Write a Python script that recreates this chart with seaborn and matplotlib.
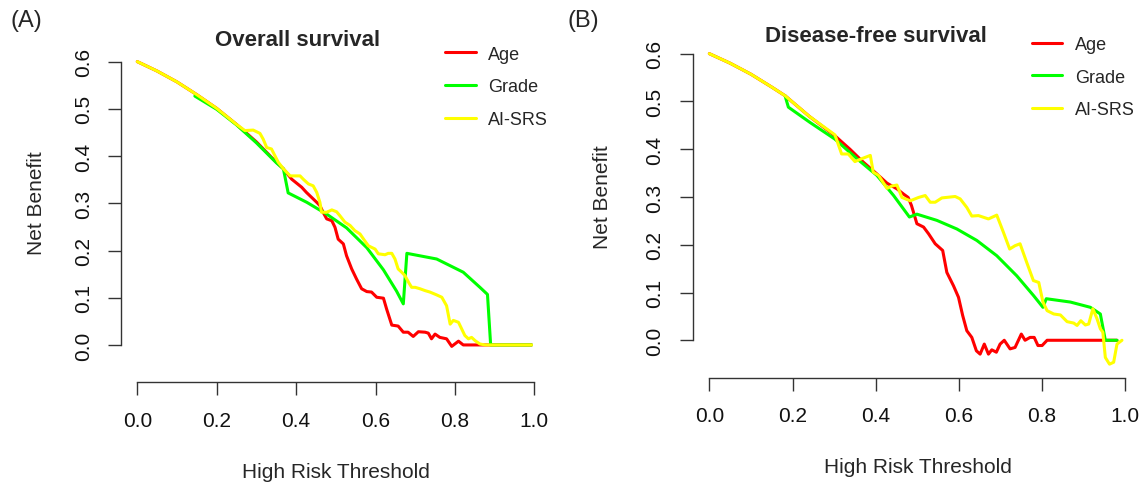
import numpy as np
import pandas as pd
import seaborn as sns
import matplotlib.pyplot as plt

sns.set_style("white")
plt.rcParams['font.family'] = ['Liberation Sans', 'DejaVu Sans']

# Data
models = ["Age", "Grade", "AI-SRS"]
colors = ["#FF0000", "#00FF00", "#FFFF00"]
x_ticks = [0.0, 0.2, 0.4, 0.6, 0.8, 1.0]
x_tick_labels = ["0.0", "0.2", "0.4", "0.6", "0.8", "1.0"]
y_ticks = [0.0, 0.1, 0.2, 0.3, 0.4, 0.5, 0.6]
y_tick_labels = ["0.0", "0.1", "0.2", "0.3", "0.4", "0.5", "0.6"]

# Panel A: overall survival
os_age_x = [0, 0.05, 0.1, 0.15, 0.2, 0.25, 0.3, 0.35, 0.368, 0.389, 0.414, 0.426, 0.452, 0.46,
            0.468, 0.477, 0.49, 0.498, 0.506, 0.519, 0.527, 0.54, 0.552, 0.565, 0.578,
            0.59, 0.603, 0.62, 0.628, 0.641, 0.657, 0.67, 0.682, 0.695, 0.708, 0.725,
            0.733, 0.741, 0.75, 0.762, 0.779, 0.792, 0.809, 0.821, 0.876, 0.993]
os_age_y = [0.6, 0.58, 0.557, 0.53, 0.501, 0.467, 0.43, 0.387, 0.373, 0.351, 0.334, 0.323, 0.302, 0.295,
            0.281, 0.267, 0.263, 0.249, 0.224, 0.214, 0.189, 0.161, 0.14, 0.119, 0.113,
            0.112, 0.101, 0.099, 0.076, 0.042, 0.04, 0.027, 0.027, 0.018, 0.028, 0.027,
            0.025, 0.013, 0.023, 0.016, 0.013, -0.003, 0.008, 0.0, 0.0, 0.0]
os_grade_x = [0.145, 0.2, 0.25, 0.3, 0.35, 0.368, 0.38, 0.427, 0.477, 0.527, 0.578, 0.62, 0.653,
              0.67, 0.679, 0.754, 0.821, 0.863, 0.882, 0.89, 0.993]
os_grade_y = [0.527, 0.499, 0.466, 0.428, 0.386, 0.373, 0.322, 0.302, 0.277, 0.248, 0.206, 0.159,
              0.114, 0.087, 0.194, 0.182, 0.154, 0.122, 0.107, 0.0, 0.0]
os_srs_x = [0, 0.05, 0.1, 0.15, 0.2, 0.25, 0.271, 0.292, 0.309, 0.317, 0.326, 0.338, 0.355, 0.368,
            0.385, 0.41, 0.418, 0.431, 0.443, 0.452, 0.46, 0.464, 0.477, 0.49, 0.502, 0.51,
            0.523, 0.536, 0.548, 0.561, 0.57, 0.582, 0.599, 0.607, 0.624, 0.632, 0.641,
            0.649, 0.657, 0.666, 0.674, 0.683, 0.691, 0.7, 0.712, 0.725, 0.737, 0.754,
            0.767, 0.779, 0.788, 0.796, 0.809, 0.817, 0.825, 0.834, 0.842, 0.851, 0.863,
            0.876, 0.993]
os_srs_y = [0.6, 0.58, 0.557, 0.53, 0.501, 0.467, 0.454, 0.455, 0.448, 0.436, 0.418, 0.415, 0.387, 0.373,
            0.358, 0.358, 0.351, 0.341, 0.337, 0.323, 0.302, 0.281, 0.281, 0.286, 0.282, 0.274,
            0.26, 0.253, 0.242, 0.235, 0.224, 0.21, 0.203, 0.193, 0.191, 0.194, 0.194,
            0.182, 0.161, 0.154, 0.147, 0.133, 0.122, 0.122, 0.119, 0.115, 0.112, 0.106,
            0.101, 0.083, 0.044, 0.052, 0.048, 0.034, 0.02, 0.013, 0.016, 0.009, 0.002,
            0.0, 0.0]

# Panel B: disease-free survival
dfs_age_x = [0, 0.05, 0.1, 0.15, 0.182, 0.24, 0.302, 0.338, 0.37, 0.403, 0.427, 0.451, 0.467,
             0.478, 0.486, 0.499, 0.515, 0.527, 0.543, 0.561, 0.571, 0.587, 0.599, 0.609,
             0.619, 0.631, 0.642, 0.651, 0.661, 0.671, 0.679, 0.69, 0.699, 0.709, 0.723,
             0.735, 0.75, 0.759, 0.771, 0.781, 0.79, 0.8, 0.812, 0.98]
dfs_age_y = [0.6, 0.58, 0.557, 0.53, 0.512, 0.469, 0.428, 0.4, 0.373, 0.348, 0.329, 0.317, 0.306,
             0.299, 0.282, 0.244, 0.237, 0.223, 0.202, 0.188, 0.142, 0.114, 0.09, 0.052,
             0.02, 0.006, -0.022, -0.029, -0.008, -0.029, -0.02, -0.025, -0.008, 0.0, -0.018,
             -0.015, 0.013, 0.0, 0.006, 0.006, -0.011, -0.011, 0.0, 0.0]
dfs_grade_x = [0.182, 0.19, 0.242, 0.302, 0.355, 0.403, 0.443, 0.481, 0.499, 0.547, 0.595,
               0.643, 0.691, 0.739, 0.779, 0.802, 0.81, 0.868, 0.916, 0.94, 0.952, 0.98]
dfs_grade_y = [0.512, 0.488, 0.456, 0.421, 0.38, 0.345, 0.303, 0.258, 0.264, 0.251, 0.233,
               0.209, 0.177, 0.135, 0.094, 0.069, 0.087, 0.08, 0.069, 0.055, 0.0, 0.0]
dfs_srs_x = [0, 0.05, 0.1, 0.15, 0.182, 0.24, 0.302, 0.318, 0.334, 0.35, 0.366, 0.387, 0.394,
             0.407, 0.427, 0.439, 0.451, 0.463, 0.483, 0.503, 0.519, 0.531, 0.543, 0.559,
             0.591, 0.603, 0.619, 0.631, 0.647, 0.671, 0.691, 0.707, 0.722, 0.735, 0.747,
             0.763, 0.779, 0.792, 0.802, 0.812, 0.828, 0.844, 0.86, 0.876, 0.884, 0.893,
             0.904, 0.912, 0.922, 0.932, 0.94, 0.946, 0.952, 0.962, 0.972, 0.98, 0.992]
dfs_srs_y = [0.6, 0.58, 0.557, 0.53, 0.512, 0.469, 0.43, 0.39, 0.39, 0.374, 0.38, 0.387, 0.352,
             0.345, 0.318, 0.323, 0.325, 0.299, 0.292, 0.299, 0.303, 0.289, 0.289, 0.298,
             0.301, 0.296, 0.278, 0.26, 0.261, 0.254, 0.262, 0.226, 0.191, 0.198, 0.202,
             0.163, 0.125, 0.121, 0.08, 0.062, 0.055, 0.053, 0.039, 0.036, 0.031, 0.041,
             0.032, 0.034, 0.066, 0.045, 0.024, 0.017, -0.036, -0.05, -0.046, -0.008, 0.0]


def long_frame(xs, ys):
    parts = []
    for name, x, y in zip(models, xs, ys):
        parts.append(pd.DataFrame({"threshold": x, "net_benefit": y, "model": name}))
    return pd.concat(parts, ignore_index=True)


panels = [
    dict(df=long_frame([os_age_x, os_grade_x, os_srs_x], [os_age_y, os_grade_y, os_srs_y]),
         rect=[0.10612, 0.21856, 0.37483, 0.6718], title="Overall survival",
         tag="(A)", tag_xy=(26, 21), title_xy=(298, 40), ylab_xy=(36, 203),
         xlab_xy=(336, 473), leg_xy=(445, 46.5)),
    dict(df=long_frame([dfs_age_x, dfs_grade_x, dfs_srs_x], [dfs_age_y, dfs_grade_y, dfs_srs_y]),
         rect=[0.6055, 0.2274, 0.3927, 0.6796], title="Disease-free survival",
         tag="(B)", tag_xy=(583, 21), title_xy=(876, 37), ylab_xy=(602, 197),
         xlab_xy=(918, 468), leg_xy=(1031.7, 37)),
]

W, H = 1144, 485
fig = plt.figure(figsize=(W / 100, H / 100), dpi=100)
fig.patch.set_facecolor("white")
axis_col = "#333333"

for p in panels:
    ax = fig.add_axes(p["rect"])
    sns.lineplot(data=p["df"], x="threshold", y="net_benefit", hue="model",
                 hue_order=models, palette=colors, estimator=None, sort=False,
                 linewidth=2.2, ax=ax)
    ax.set_xlim(-0.04, 1.04)
    ax.set_ylim(-0.07, 0.62)
    ax.set_xlabel("")
    ax.set_ylabel("")
    for s in ["top", "right"]:
        ax.spines[s].set_visible(False)
    ax.spines["left"].set_bounds(0, 0.6)
    ax.spines["bottom"].set_bounds(0, 1)
    ax.spines["bottom"].set_position(("outward", 3.1))
    for s in ["left", "bottom"]:
        ax.spines[s].set_color(axis_col)
        ax.spines[s].set_linewidth(1.0)
    ax.set_xticks(x_ticks)
    ax.set_xticklabels(x_tick_labels)
    ax.set_yticks(y_ticks)
    ax.set_yticklabels(y_tick_labels, rotation=90, va="center")
    ax.tick_params(direction="out", length=9.4, width=1.0, color=axis_col,
                   labelsize=15, pad=11, labelcolor="#111111")
    ax.tick_params(axis="both", which="both", bottom=True, left=True)

    handles, labels = ax.get_legend_handles_labels()
    for h in handles:
        h.set_linewidth(2.2)
    ax.legend(handles, labels, loc="upper left",
              bbox_to_anchor=(p["leg_xy"][0] / W, 1 - p["leg_xy"][1] / H),
              bbox_transform=fig.transFigure, frameon=False, fontsize=13,
              handlelength=1.7, handletextpad=0.7, labelspacing=0.87,
              borderpad=0, borderaxespad=0)

    fig.text(p["title_xy"][0] / W, 1 - p["title_xy"][1] / H, p["title"],
             ha="center", va="center", fontsize=16, fontweight="bold")
    fig.text(p["tag_xy"][0] / W, 1 - p["tag_xy"][1] / H, p["tag"],
             ha="center", va="center", fontsize=17)
    fig.text(p["ylab_xy"][0] / W, 1 - p["ylab_xy"][1] / H, "Net Benefit",
             ha="center", va="center", rotation=90, fontsize=15)
    fig.text(p["xlab_xy"][0] / W, 1 - p["xlab_xy"][1] / H, "High Risk Threshold",
             ha="center", va="center", fontsize=15)

fig.savefig("out.png", dpi=100)
